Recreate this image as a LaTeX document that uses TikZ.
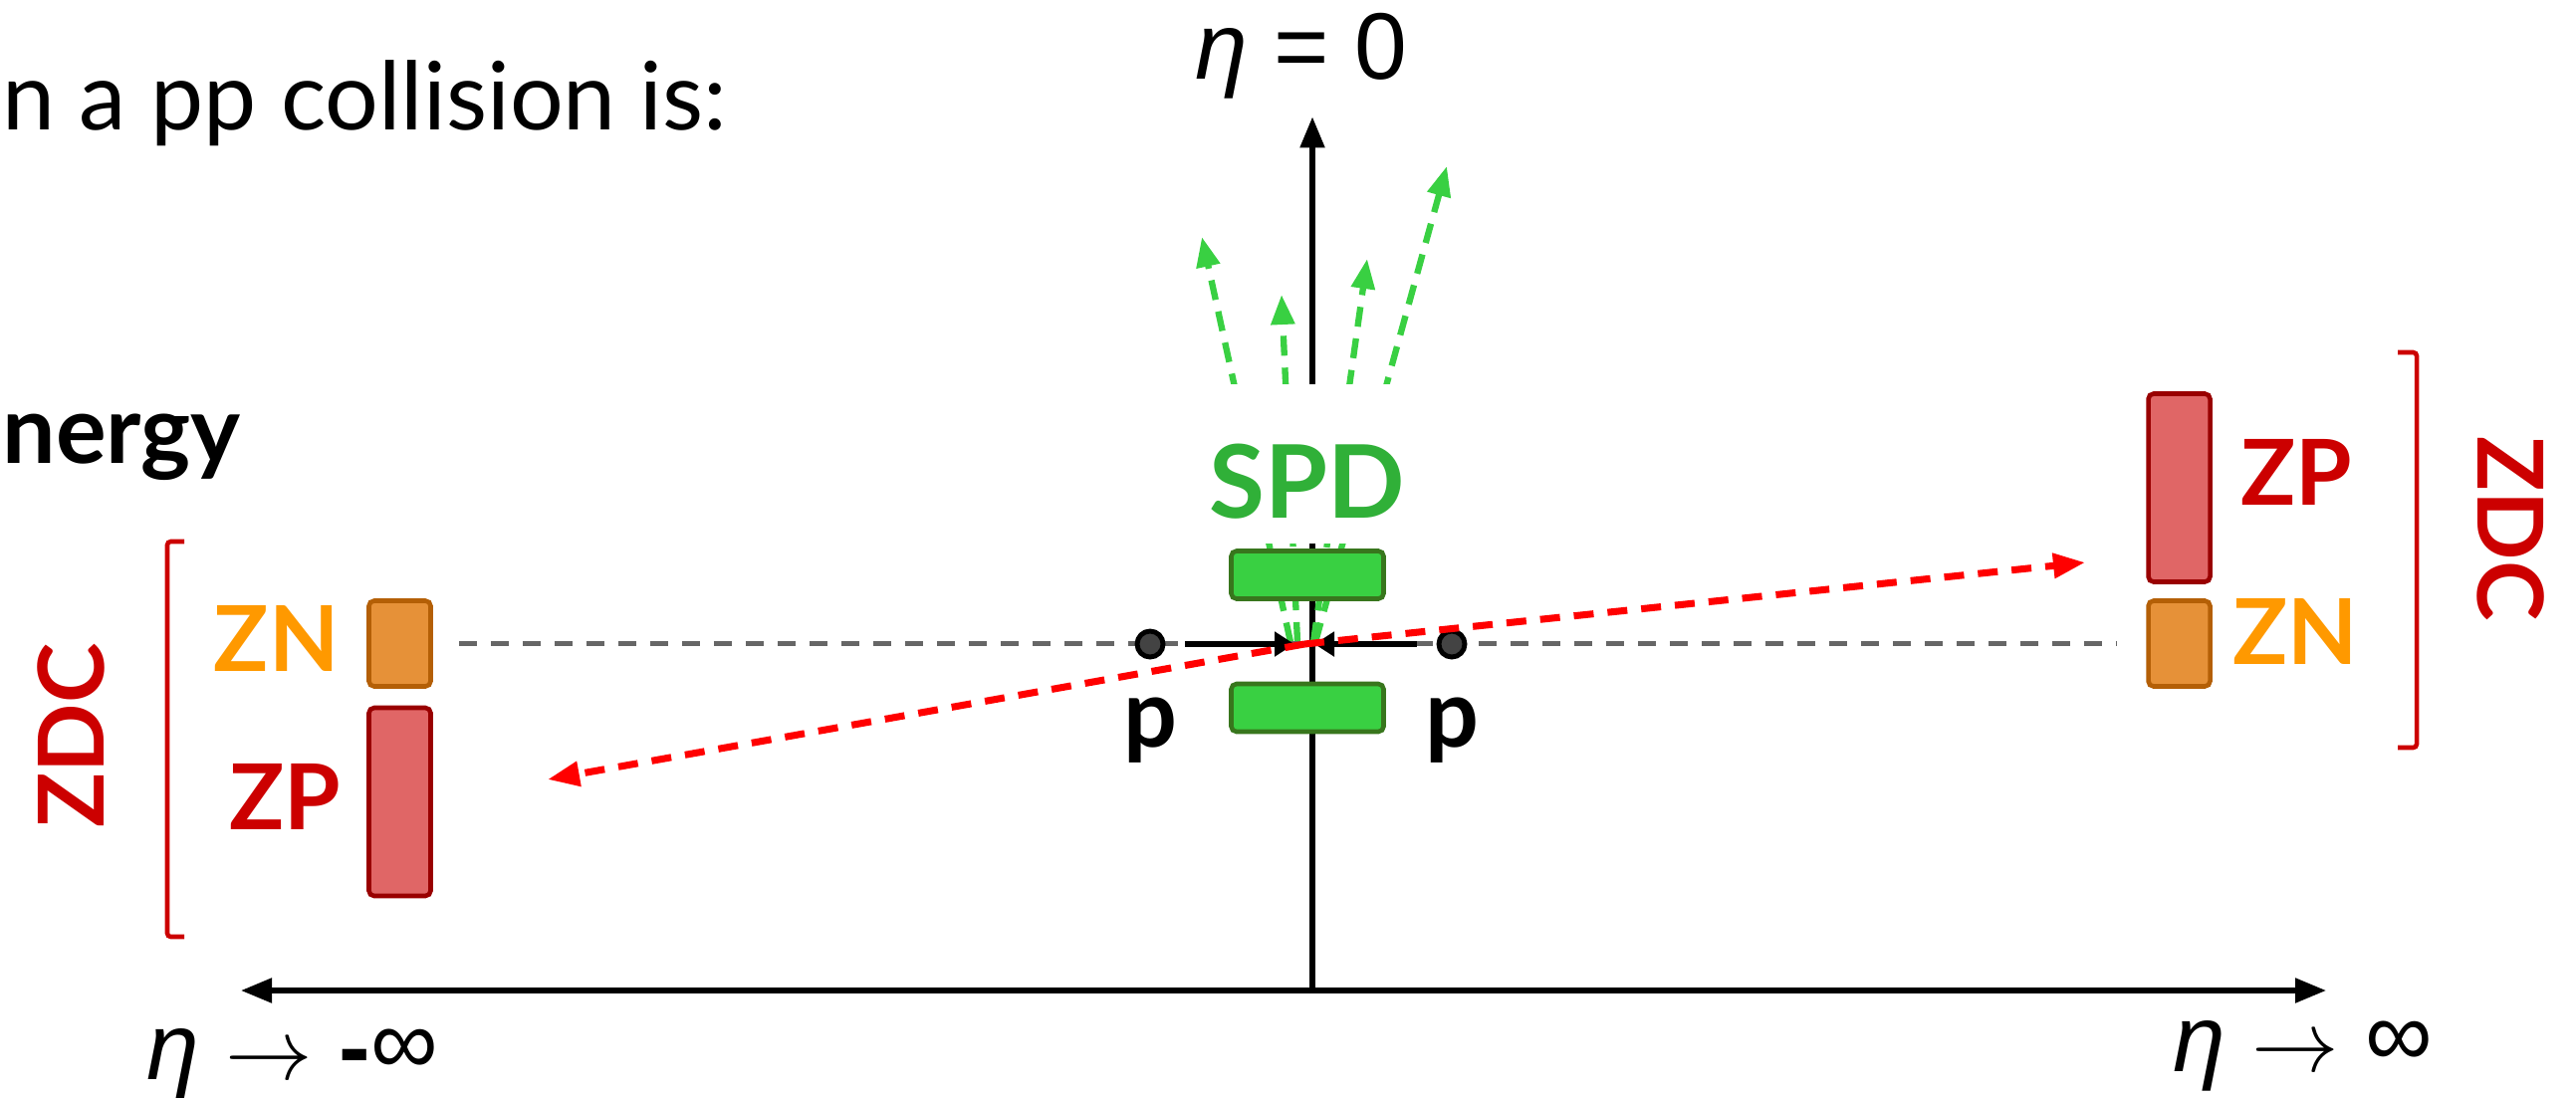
\documentclass[tikz,border=0pt]{standalone}
\usepackage{fontspec}
\setmainfont{Lato}
\newfontfamily\eqfont{Liberation Sans}
\usepackage{tikz}
\usetikzlibrary{arrows.meta, positioning, backgrounds}
\definecolor{znfill}{RGB}{230,145,56}
\definecolor{znedge}{RGB}{180,95,6}
\definecolor{zpfill}{RGB}{224,102,102}
\definecolor{zpedge}{RGB}{153,0,0}
\definecolor{zntext}{RGB}{255,153,0}
\definecolor{zdcred}{RGB}{204,0,0}
\definecolor{spdfill}{RGB}{57,208,66}
\definecolor{spdedge}{RGB}{56,118,29}
\definecolor{spdtext}{RGB}{48,176,56}
\definecolor{trackgreen}{RGB}{57,208,66}
\definecolor{protonfill}{RGB}{67,67,67}
\definecolor{beamgray}{RGB}{102,102,102}
\tikzset{
  znbox/.style={rectangle, rounded corners=1.5pt, draw=znedge, fill=znfill, line width=1.3pt,
                minimum width=0.62cm, minimum height=0.86cm, inner sep=0pt},
  zpbox/.style={rectangle, rounded corners=1.5pt, draw=zpedge, fill=zpfill, line width=1.3pt,
                minimum width=0.62cm, minimum height=1.89cm, inner sep=0pt},
  spdbox/.style={rectangle, rounded corners=1.5pt, draw=spdedge, fill=spdfill, line width=1.3pt,
                 minimum width=1.53cm, minimum height=0.48cm, inner sep=0pt},
  lbl/.style={inner sep=0pt, font=\bfseries\fontsize{26}{30}\selectfont},
  txt/.style={inner sep=0pt, font=\fontsize{27}{32}\selectfont},
  eq/.style={inner sep=0pt, font=\eqfont\fontsize{27}{32}\selectfont},
  proton/.style={circle, draw=black, fill=protonfill, line width=1.4pt, minimum size=0.26cm, inner sep=0pt},
  beamline/.style={dash pattern=on 0.18cm off 0.14cm, line width=1.4pt, color=beamgray},
  beam/.style={-{Triangle[length=0.2cm,width=0.24cm]}, line width=1.6pt},
  frag/.style={-{Triangle[length=0.32cm,width=0.24cm]}, dash pattern=on 0.2cm off 0.14cm,
               line width=2pt, color=red},
  track/.style={-{Triangle[length=0.3cm,width=0.23cm]}, dash pattern=on 0.2cm off 0.12cm,
                line width=1.8pt, color=trackgreen},
  axis/.style={line width=1.5pt},
  zdcbrace/.style={draw=zdcred, line width=1.3pt, rounded corners=1pt},
}

\begin{document}
\begin{tikzpicture}
  \useasboundingbox (0,0) rectangle (25.87,-11.02);

  % slide text, cut at the left edge
  \node[txt, anchor=base west] (intro) at (0.02,-1.30) {n a pp collision is:};
  \node[txt, font=\bfseries\fontsize{27}{32}\selectfont, anchor=base west] (energy) at (0.02,-4.65) {nergy};

  % axes
  \coordinate (axO) at (13.18,-9.95);
  \coordinate (axL) at (2.42,-9.95);
  \coordinate (axR) at (23.36,-9.95);
  \coordinate (ip) at (13.10,-6.47);
  \node[eq, anchor=base] (eta0) at (13.07,-0.79) {{\itshape η} = 0};
  \node[eq, anchor=base west] (etaM) at (1.47,-10.84)
    {{\itshape η} $\rightarrow$ {\bfseries -}\raisebox{0.05cm}{∞}};
  \node[eq, anchor=base west] (etaP) at (21.82,-10.76)
    {{\itshape η} $\rightarrow$ \raisebox{0.05cm}{∞}};

  % ZDC, left side
  \node[znbox] (znL) at (4.015,-6.465) {};
  \node[zpbox] (zpL) at (4.015,-8.055) {};
  \node[lbl, text=zntext, left=0.27cm of znL, yshift=0.05cm] (znLlbl) {ZN};
  \node[lbl, text=zdcred, left=0.25cm of zpL, yshift=0.05cm] (zpLlbl) {ZP};
  \draw[zdcbrace] (1.85,-5.44) -- (1.68,-5.44) -- (1.68,-9.41) -- (1.85,-9.41);
  \node[lbl, text=zdcred, rotate=90] (zdcL) at (0.71,-7.39) {ZDC};

  % ZDC, right side
  \node[zpbox] (zpR) at (21.885,-4.90) {};
  \node[znbox] (znR) at (21.885,-6.465) {};
  \node[lbl, text=zdcred, right=0.28cm of zpR, yshift=0.16cm] (zpRlbl) {ZP};
  \node[lbl, text=zntext, right=0.20cm of znR, yshift=0.12cm] (znRlbl) {ZN};
  \draw[zdcbrace] (24.08,-3.54) -- (24.27,-3.54) -- (24.27,-7.51) -- (24.08,-7.51);
  \node[lbl, text=zdcred, rotate=-90] (zdcR) at (25.21,-5.31) {ZDC};

  % SPD layers
  \node[spdbox] (spdT) at (13.13,-5.775) {};
  \node[spdbox] (spdB) at (13.13,-7.11) {};
  \node[lbl, font=\bfseries\fontsize{29}{34}\selectfont, text=spdtext, fill=white,
        inner xsep=3pt, inner ysep=0pt, text height=1.35cm, text depth=0.25cm,
        above=0.05cm of spdT] (spd) {SPD};

  % protons
  \node[proton] (pL) at (11.55,-6.47) {};
  \node[proton] (pR) at (14.58,-6.47) {};
  \node[lbl, font=\bfseries\fontsize{27}{32}\selectfont, below=0.38cm of pL] (pLlbl) {p};
  \node[lbl, font=\bfseries\fontsize{27}{32}\selectfont, below=0.38cm of pR] (pRlbl) {p};

  \begin{scope}[on background layer]
    \draw[axis, {Triangle[length=0.31cm,width=0.24cm]}-{Triangle[length=0.31cm,width=0.24cm]}] (axL) -- (axR);
    \draw[axis, -{Triangle[length=0.31cm,width=0.24cm]}, shorten >=0.18cm]
      ([yshift=-0.03cm]axO) -- (axO |- eta0.south);
    \foreach \i/\sx/\tx/\ty in {1/-0.14/12.07/-2.38, 2/-0.07/12.87/-2.96,
                                3/0.09/13.73/-2.60, 4/0.11/14.53/-1.67}{
      \coordinate (trk\i) at (\tx,\ty);
      \draw[track] ([xshift=\sx cm, yshift=0.02cm]ip) -- (trk\i);
    }
    \draw[beamline, shorten <=0.26cm, shorten >=0.3cm] (znL) -- (znR);
  \end{scope}

  \draw[beam, shorten <=0.2cm, shorten >=0.1cm] (pL) -- (ip);
  \draw[beam, shorten <=0.2cm, shorten >=0.1cm] (pR) -- (ip);

  % fragments
  \coordinate (fragL) at (5.50,-7.83);
  \coordinate (fragR) at (20.94,-5.65);
  \draw[frag] (ip) -- (fragL);
  \draw[frag] (ip) -- (fragR);
\end{tikzpicture}
\end{document}
